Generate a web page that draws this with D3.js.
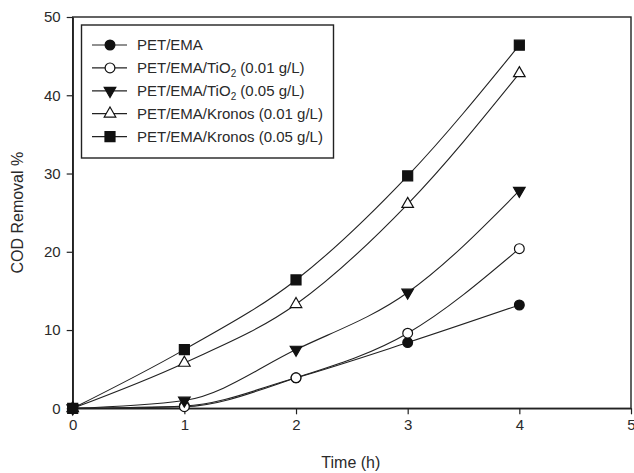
<!DOCTYPE html>
<html><head><meta charset="utf-8">
<script src="https://cdn.jsdelivr.net/npm/d3@7"></script>
<style>body{margin:0;background:#fff}svg{display:block}text{font-family:Arial,"Liberation Sans",sans-serif;fill:#2a2a2a}</style>
</head><body><svg id="c" width="634" height="473"></svg>
<script>
const times = [0, 1, 2, 3, 4];
const seriesNames = ["PET/EMA", "PET/EMA/TiO2 (0.01 g/L)", "PET/EMA/TiO2 (0.05 g/L)", "PET/EMA/Kronos (0.01 g/L)", "PET/EMA/Kronos (0.05 g/L)"];
const petEma = [0, 0.3, 3.9, 8.4, 13.2];
const tio2Low = [0, 0.2, 3.9, 9.6, 20.4];
const tio2High = [0, 1.0, 7.5, 14.8, 27.8];
const kronosLow = [0, 5.8, 13.3, 26.1, 42.8];
const kronosHigh = [0, 7.5, 16.4, 29.7, 46.4];
const xTicks = [0, 1, 2, 3, 4, 5];
const yTicks = [0, 10, 20, 30, 40, 50];
const seriesValues = [petEma, tio2Low, tio2High, kronosLow, kronosHigh];
const markers = [
  {type: d3.symbolCircle, size: 75, fill: "#111", rot: 0},
  {type: d3.symbolCircle, size: 75, fill: "#fff", rot: 0},
  {type: d3.symbolTriangle, size: 58, fill: "#111", rot: 180},
  {type: d3.symbolTriangle, size: 58, fill: "#fff", rot: 0},
  {type: d3.symbolSquare, size: 100, fill: "#111", rot: 0}
];

const svg = d3.select("#c");
const L = 72.7, R = 631, T = 17, B = 408.3;
const x = d3.scaleLinear().domain([0, 5]).range([L, R]);
const y = d3.scaleLinear().domain([0, 50]).range([B, T]);
const ink = "#222";

// frame
svg.append("rect").attr("x", L).attr("y", T).attr("width", R - L).attr("height", B - T)
  .attr("fill", "none").attr("stroke", ink).attr("stroke-width", 1.4);

const xAxis = svg.append("g").attr("transform", `translate(0,${B})`)
  .call(d3.axisBottom(x).tickValues(xTicks).tickFormat(d3.format("d")).tickSizeInner(6).tickSizeOuter(0).tickPadding(5));
const yAxis = svg.append("g").attr("transform", `translate(${L},0)`)
  .call(d3.axisLeft(y).tickValues(yTicks).tickFormat(d3.format("d")).tickSizeInner(6).tickSizeOuter(0).tickPadding(6));
[xAxis, yAxis].forEach(g => {
  g.select(".domain").attr("stroke", ink).attr("stroke-width", 1.4);
  g.selectAll(".tick line").attr("stroke", ink).attr("stroke-width", 1.2);
  g.selectAll(".tick text").attr("font-size", 15).attr("fill", "#2a2a2a")
    .style("font-family", "Arial, 'Liberation Sans', sans-serif");
});

// titles
svg.append("text").attr("x", (L + R) / 2 - 1).attr("y", 468).attr("text-anchor", "middle")
  .attr("font-size", 16).text("Time (h)");
svg.append("text").attr("transform", `translate(23,${(T + B) / 2}) rotate(-90)`).attr("text-anchor", "middle")
  .attr("font-size", 16).text("COD Removal %");

// lines
const line = d3.line().x((d, i) => x(times[i])).y(d => y(d)).curve(d3.curveMonotoneX);
seriesValues.forEach(vals => {
  svg.append("path").attr("d", line(vals)).attr("fill", "none").attr("stroke", ink).attr("stroke-width", 1.1);
});
seriesValues.forEach((vals, s) => {
  const m = markers[s];
  svg.append("g").selectAll("path").data(vals).join("path")
    .attr("d", d3.symbol().type(m.type).size(m.size))
    .attr("transform", (d, i) => `translate(${x(times[i])},${y(d)}) rotate(${m.rot})`)
    .attr("fill", m.fill).attr("stroke", "#111").attr("stroke-width", 1.2);
});

// legend
const lg = svg.append("g");
lg.append("rect").attr("x", 81.5).attr("y", 25).attr("width", 252).attr("height", 133)
  .attr("fill", "#fff").attr("stroke", ink).attr("stroke-width", 1.4);
seriesNames.forEach((name, s) => {
  const cy = 45 + s * 22.9;
  lg.append("line").attr("x1", 92).attr("x2", 127).attr("y1", cy).attr("y2", cy)
    .attr("stroke", ink).attr("stroke-width", 1.2);
  const m = markers[s];
  lg.append("path").attr("d", d3.symbol().type(m.type).size(m.size))
    .attr("transform", `translate(110,${cy}) rotate(${m.rot})`)
    .attr("fill", m.fill).attr("stroke", "#111").attr("stroke-width", 1.2);
  const t = lg.append("text").attr("x", 137).attr("y", cy + 5).attr("font-size", 15);
  const parts = name.split(/(TiO)2/);
  if (parts.length > 1) {
    t.append("tspan").text(parts[0] + "TiO");
    t.append("tspan").attr("font-size", 10).attr("dy", 4).text("2");
    t.append("tspan").attr("dy", -4).text(parts[2]);
  } else t.text(name);
});
</script></body></html>
